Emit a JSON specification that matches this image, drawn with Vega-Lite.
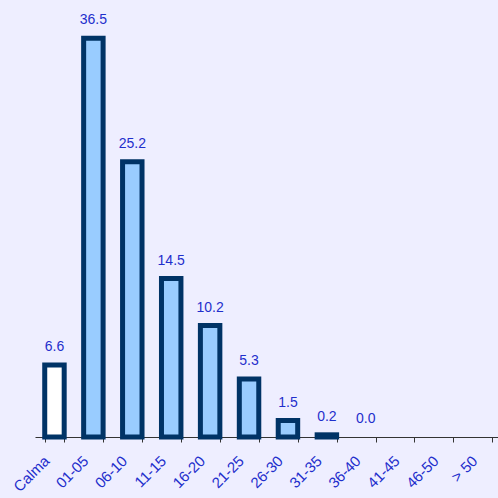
{
  "$schema": "https://vega.github.io/schema/vega-lite/v6.json",
  "autosize": "none",
  "padding": {"left": 35, "top": 0, "right": 0, "bottom": 61},
  "width": 467,
  "height": 437,
  "background": "#EEEEFF",
  "config": {"view": {"stroke": null}, "font": "Liberation Sans"},
  "data": {
    "values": [
      {"cat": "Calma", "value": 6.6, "calm": true},
      {"cat": "01-05", "value": 36.5, "calm": false},
      {"cat": "06-10", "value": 25.2, "calm": false},
      {"cat": "11-15", "value": 14.5, "calm": false},
      {"cat": "16-20", "value": 10.2, "calm": false},
      {"cat": "21-25", "value": 5.3, "calm": false},
      {"cat": "26-30", "value": 1.5, "calm": false},
      {"cat": "31-35", "value": 0.2, "calm": false},
      {"cat": "36-40", "value": 0.0, "calm": false},
      {"cat": "41-45", "value": null, "calm": false},
      {"cat": "46-50", "value": null, "calm": false},
      {"cat": "> 50", "value": null, "calm": false}
    ]
  },
  "encoding": {
    "x": {
      "field": "cat",
      "type": "nominal",
      "sort": null,
      "scale": {
        "domain": ["Calma", "01-05", "06-10", "11-15", "16-20", "21-25", "26-30", "31-35", "36-40", "41-45", "46-50", "> 50"],
        "paddingInner": 0.5,
        "paddingOuter": 0.25
      },
      "axis": {
        "title": null,
        "labelAngle": -45,
        "labelColor": "#1F2FCC",
        "labelFontSize": 15,
        "labelPadding": 11,
        "labelOffset": -13,
        "tickBand": "extent",
        "tickColor": "#333333",
        "tickSize": 5,
        "domainColor": "#333333",
        "grid": false
      }
    },
    "y": {
      "field": "value",
      "type": "quantitative",
      "scale": {"domain": [0, 40], "nice": false},
      "axis": null
    }
  },
  "layer": [
    {
      "transform": [{"filter": "datum.value > 0"}],
      "mark": {"type": "bar", "stroke": "#003366", "strokeWidth": 5},
      "encoding": {
        "fill": {
          "field": "calm",
          "type": "nominal",
          "scale": {"domain": [true, false], "range": ["#FFFFFF", "#99CCFF"]},
          "legend": null
        }
      }
    },
    {
      "transform": [{"filter": "isValid(datum.value)"}],
      "mark": {"type": "text", "dy": -14, "baseline": "alphabetic", "fontSize": 14, "color": "#1F2FCC"},
      "encoding": {
        "text": {"field": "value", "type": "quantitative", "format": ".1f"}
      }
    }
  ]
}
